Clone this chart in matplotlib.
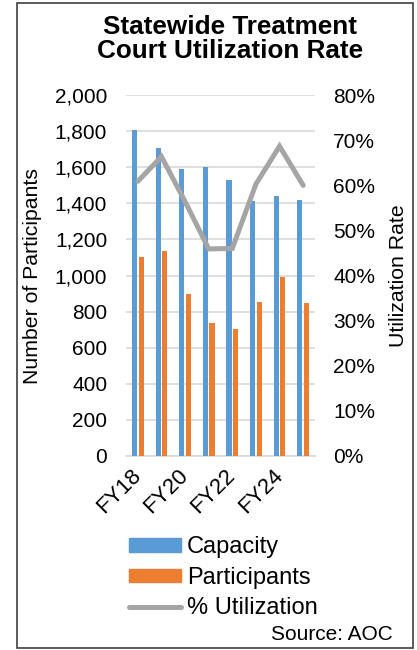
import matplotlib
matplotlib.use("Agg")
import matplotlib.pyplot as plt
from matplotlib.patches import Rectangle
from matplotlib.lines import Line2D
import numpy as np

plt.rcParams['font.family'] = ['Liberation Sans', 'DejaVu Sans']

years = ["FY18", "FY19", "FY20", "FY21", "FY22", "FY23", "FY24", "FY25"]
capacity = [1809, 1709, 1593, 1602, 1531, 1413, 1443, 1417]
participants = [1102, 1135, 898, 735, 704, 852, 991, 850]
utilization = [0.609, 0.664, 0.564, 0.459, 0.460, 0.603, 0.687, 0.600]

BLUE = "#5B9BD5"
ORANGE = "#ED7D31"
GRAY = "#A5A5A5"

W, H = 417, 650
fig = plt.figure(figsize=(W / 100, H / 100), dpi=100)

def px(x0, y0, x1, y1):
    return [x0 / W, 1 - y1 / H, (x1 - x0) / W, (y1 - y0) / H]

ax = fig.add_axes(px(126, 95.3, 315, 455.7))
x = np.arange(len(years))
bw = 0.22
ax.bar(x - 0.14, capacity, width=bw, color=BLUE, zorder=3)
ax.bar(x + 0.14, participants, width=bw, color=ORANGE, zorder=3)
ax.set_xlim(-0.5, len(years) - 0.5)
ax.set_ylim(0, 2000)
ax.set_yticks(np.arange(0, 2001, 200))
ax.set_yticklabels([f"{v:,}" for v in range(0, 2001, 200)], fontsize=15)
ax.yaxis.grid(True, color="#D9D9D9", linewidth=1.2, zorder=0)
ax.set_axisbelow(True)
for s in ["top", "left", "right"]:
    ax.spines[s].set_visible(False)
ax.spines["bottom"].set_color("#D9D9D9")
ax.spines["bottom"].set_linewidth(1.2)
ax.tick_params(axis="y", length=0, pad=13.5)
ax.tick_params(axis="x", length=0, pad=12)
ax.set_xticks(x[::2])
ax.set_xticklabels(years[::2], rotation=45, ha="right", va="center",
                   rotation_mode="anchor", fontsize=16)
ax.set_ylabel("Number of Participants", fontsize=15.3, va="center")
ax.yaxis.set_label_coords((33 - 126) / 189, 0.5)

ax2 = ax.twinx()
ax2.plot(x, utilization, color=GRAY, linewidth=3.6, solid_capstyle="round",
         solid_joinstyle="miter", zorder=4)
ax2.set_ylim(0, 0.8)
ax2.set_yticks(np.arange(0, 0.81, 0.1))
ax2.set_yticklabels([f"{int(round(v * 100))}%" for v in np.arange(0, 0.81, 0.1)],
                    fontsize=15)
for s in ["top", "left", "right", "bottom"]:
    ax2.spines[s].set_visible(False)
ax2.tick_params(axis="y", length=0, pad=13)
ax2.set_ylabel("Utilization Rate", fontsize=15.3, va="center")
ax2.yaxis.set_label_coords((398 - 126) / 189, 0.5)

fig.text(230 / W, 1 - 39 / H, "Statewide Treatment\nCourt Utilization Rate",
         ha="center", va="center", fontsize=18.8, fontweight="bold",
         linespacing=1.05)

handles = [
    Rectangle((0, 0), 1, 1, color=BLUE),
    Rectangle((0, 0), 1, 1, color=ORANGE),
    Line2D([0], [0], color=GRAY, linewidth=3.6, solid_capstyle="round"),
]
fig.legend(handles, ["Capacity", "Participants", "% Utilization"],
           loc="center left", bbox_to_anchor=(129 / W, 1 - 578 / H),
           frameon=False, fontsize=17, handlelength=2.2, handleheight=0.5,
           handletextpad=0.25, labelspacing=0.36, borderpad=0, borderaxespad=0)

fig.text(393 / W, 1 - 635 / H, "Source: AOC", ha="right", va="center",
         fontsize=15)

fig.patches.append(Rectangle((17 / W, 1 - 648 / H), (413 - 17) / W, (648 - 3) / H,
                             transform=fig.transFigure, fill=False,
                             edgecolor="#404040", linewidth=1.2))

fig.savefig("out.png", dpi=100)
